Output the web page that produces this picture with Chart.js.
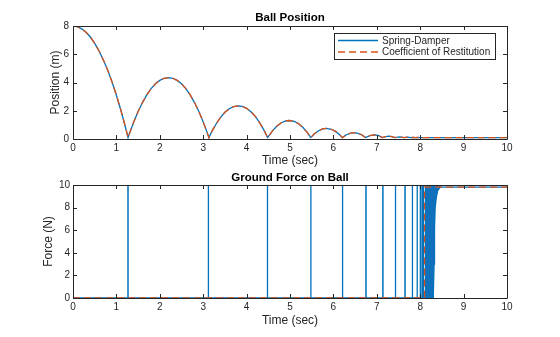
<!DOCTYPE html>
<html>
<head>
<meta charset="utf-8">
<title>Ball Position</title>
<script src="https://cdn.jsdelivr.net/npm/chart.js@4.4.1/dist/chart.umd.min.js"></script>
<style>
    body { margin: 0; background: #fff; }
    canvas { position: absolute; left: 0; }
    #posChart { top: 0; }
    #forceChart { top: 168px; }
</style>
</head>
<body>
<canvas id="posChart" width="560" height="168"></canvas>
<canvas id="forceChart" width="560" height="169"></canvas>
<script>
// -----------------------------
// DATA
// -----------------------------
const xTicks = [0, 1, 2, 3, 4, 5, 6, 7, 8, 9, 10];
const posTicks = [0, 2, 4, 6, 8];
const forceTicks = [0, 2, 4, 6, 8, 10];

const seriesNames = ["Spring-Damper", "Coefficient of Restitution"];

// ball height vs time (both models sit almost on top of each other)
const posTime = [
    0, 0.1, 0.2, 0.3, 0.4, 0.5, 0.6, 0.7, 0.8, 0.9, 1.0, 1.1, 1.2, 1.269,
    1.3, 1.4, 1.5, 1.6, 1.7, 1.8, 1.9, 2.0, 2.1, 2.2, 2.3, 2.4, 2.5, 2.6, 2.7, 2.8, 2.9, 3.0, 3.1, 3.131,
    3.2, 3.3, 3.4, 3.5, 3.6, 3.7, 3.808, 3.9, 4.0, 4.1, 4.2, 4.3, 4.4, 4.485,
    4.6, 4.7, 4.8, 4.9, 4.982, 5.1, 5.2, 5.3, 5.4, 5.478,
    5.55, 5.65, 5.75, 5.842, 5.95, 6.05, 6.15, 6.206,
    6.3, 6.4, 6.473, 6.55, 6.65, 6.74,
    6.84, 6.936, 7.03, 7.132,
    7.2, 7.276, 7.35, 7.419,
    7.525, 7.63,
    7.707, 7.785,
    7.841, 7.898,
    7.94, 7.98,
    10
];
const posSpring = [
    8.00, 7.95, 7.80, 7.56, 7.22, 6.77, 6.23, 5.60, 4.86, 4.03, 3.10, 2.07, 0.94, 0.10,
    0.38, 1.21, 1.95, 2.58, 3.12, 3.57, 3.91, 4.15, 4.30, 4.35, 4.30, 4.15, 3.91, 3.57, 3.12, 2.58, 1.95, 1.21, 0.38, 0.10,
    0.54, 1.08, 1.53, 1.89, 2.14, 2.29, 2.35, 2.31, 2.17, 1.93, 1.60, 1.16, 0.63, 0.10,
    0.59, 0.92, 1.15, 1.28, 1.31, 1.24, 1.08, 0.81, 0.45, 0.10,
    0.33, 0.57, 0.71, 0.75, 0.69, 0.54, 0.29, 0.10,
    0.30, 0.42, 0.45, 0.42, 0.30, 0.10,
    0.24, 0.29, 0.25, 0.10,
    0.17, 0.20, 0.17, 0.10,
    0.15, 0.10,
    0.13, 0.10,
    0.12, 0.10,
    0.11, 0.10,
    0.10
];
const posCOR = [
    8.00, 7.95, 7.80, 7.56, 7.22, 6.77, 6.23, 5.60, 4.86, 4.03, 3.10, 2.07, 0.94, 0.10,
    0.38, 1.21, 1.95, 2.58, 3.12, 3.57, 3.91, 4.15, 4.30, 4.35, 4.30, 4.15, 3.91, 3.57, 3.12, 2.58, 1.95, 1.21, 0.38, 0.10,
    0.54, 1.08, 1.53, 1.89, 2.14, 2.29, 2.35, 2.31, 2.17, 1.93, 1.60, 1.16, 0.63, 0.10,
    0.59, 0.92, 1.15, 1.28, 1.31, 1.24, 1.08, 0.81, 0.45, 0.10,
    0.33, 0.57, 0.71, 0.75, 0.69, 0.54, 0.29, 0.10,
    0.30, 0.42, 0.45, 0.42, 0.30, 0.10,
    0.24, 0.29, 0.25, 0.10,
    0.17, 0.20, 0.17, 0.10,
    0.15, 0.10,
    0.13, 0.10,
    0.12, 0.10,
    0.11, 0.10,
    0.10
];

// spring-damper ground force: short spikes at each bounce (clipped at 10)
const forceTime = [
    0,
    1.265, 1.265, 1.270, 1.270,
    3.117, 3.117, 3.122, 3.122,
    4.478, 4.478, 4.483, 4.483,
    5.478, 5.478, 5.483, 5.483,
    6.208, 6.208, 6.213, 6.213,
    6.748, 6.748, 6.753, 6.753,
    7.138, 7.138, 7.143, 7.143,
    7.428, 7.428, 7.433, 7.433,
    7.648, 7.648, 7.653, 7.653,
    7.818, 7.818, 7.823, 7.823,
    7.928, 7.928, 7.933, 7.933,
    8.000, 8.000, 8.005, 8.005,
    8.040, 8.040, 8.045, 8.045,
    8.070, 8.070, 8.075, 8.075,
    8.120, 8.120, 8.460, 8.460, 10
];
const forceSpring = [
    0,
    0, 14, 14, 0,
    0, 14, 14, 0,
    0, 14, 14, 0,
    0, 14, 14, 0,
    0, 14, 14, 0,
    0, 14, 14, 0,
    0, 14, 14, 0,
    0, 14, 14, 0,
    0, 14, 14, 0,
    0, 14, 14, 0,
    0, 14, 14, 0,
    0, 14, 14, 0,
    0, 14, 14, 0,
    0, 14, 14, 0,
    0, 14, 14, 9.81, 9.81
];

// lower edge of the dense chatter band before the ball settles
const chatterTime = [8.12, 8.30, 8.32, 8.33, 8.345, 8.37, 8.40, 8.46];
const chatterLow = [0, 0, 3.0, 6.2, 8.0, 8.85, 9.47, 9.81];

// coefficient of restitution ground force
const corForceTime = [0, 8.10, 8.10, 10];
const corForce = [0, 0, 9.81, 9.81];


// -----------------------------
// STYLE
// -----------------------------
const BLUE = "#0072bd";
const ORANGE = "#d95319";
const AXIS = "#262626";
const FONT = "'Liberation Sans', Arial, sans-serif";

Chart.defaults.font.family = FONT;
Chart.defaults.color = AXIS;

function pts(xs, ys) {
    return xs.map((x, i) => ({ x: x, y: ys[i] }));
}

// frame, inward tick marks, title, boxed legend (MATLAB look)
const framePlugin = {
    id: "frame",
    afterDatasetsDraw(chart, args, opts) {
        const ctx = chart.ctx;
        const a = chart.chartArea;
        const sx = chart.scales.x;
        const sy = chart.scales.y;

        ctx.save();
        ctx.strokeStyle = AXIS;
        ctx.lineWidth = 1;
        ctx.beginPath();
        ctx.rect(a.left + 0.5, a.top + 0.5, a.right - a.left, a.bottom - a.top);

        sx.ticks.forEach(t => {
            const px = Math.round(sx.getPixelForValue(t.value)) + 0.5;
            ctx.moveTo(px, a.bottom);
            ctx.lineTo(px, a.bottom - 4);
            ctx.moveTo(px, a.top);
            ctx.lineTo(px, a.top + 4);
        });
        sy.ticks.forEach(t => {
            const py = Math.round(sy.getPixelForValue(t.value)) + 0.5;
            ctx.moveTo(a.left, py);
            ctx.lineTo(a.left + 4, py);
            ctx.moveTo(a.right, py);
            ctx.lineTo(a.right - 4, py);
        });
        ctx.stroke();

        // title
        ctx.fillStyle = "#000";
        ctx.font = "bold 11.5px " + FONT;
        ctx.textAlign = "center";
        ctx.textBaseline = "alphabetic";
        ctx.fillText(opts.title, (a.left + a.right) / 2, a.top - opts.titleGap);

        // legend
        if (opts.legend) {
            const lx = 334, ly = 33, lw = 161, lh = 26;
            ctx.fillStyle = "#fff";
            ctx.fillRect(lx, ly, lw, lh);
            ctx.strokeRect(lx + 0.5, ly + 0.5, lw, lh);

            ctx.font = "10px " + FONT;
            ctx.textAlign = "left";
            ctx.textBaseline = "middle";
            [0, 1].forEach(i => {
                const ds = chart.data.datasets[i];
                const y = ly + 7.5 + i * 11.5;
                ctx.save();
                ctx.strokeStyle = ds.borderColor;
                ctx.lineWidth = 1.5;
                ctx.setLineDash(ds.borderDash || []);
                ctx.beginPath();
                ctx.moveTo(lx + 4, y);
                ctx.lineTo(lx + 44, y);
                ctx.stroke();
                ctx.restore();
                ctx.fillStyle = AXIS;
                ctx.fillText(ds.label, lx + 48, y + 0.5);
            });
        }
        ctx.restore();
    }
};

function axisX(titlePad, height) {
    return {
        type: "linear",
        min: 0,
        max: 10,
        afterBuildTicks: s => { s.ticks = xTicks.map(v => ({ value: v })); },
        afterFit: s => { s.height = height; },
        ticks: { padding: 3, maxRotation: 0, color: AXIS, font: { size: 10 } },
        grid: { display: false, drawTicks: false },
        border: { display: false },
        title: {
            display: true,
            text: "Time (sec)",
            color: AXIS,
            font: { size: 12 },
            padding: { top: 0, bottom: titlePad }
        }
    };
}

function axisY(label, max, tickList, width, tickPad) {
    return {
        min: 0,
        max: max,
        afterBuildTicks: s => { s.ticks = tickList.map(v => ({ value: v })); },
        afterFit: s => { s.width = width; },
        ticks: { padding: tickPad, color: AXIS, font: { size: 10 } },
        grid: { display: false, drawTicks: false },
        border: { display: false },
        title: {
            display: true,
            text: label,
            color: AXIS,
            font: { size: 12 },
            padding: { top: 5, bottom: 0 }
        }
    };
}

const lineStyle = {
    pointRadius: 0,
    borderWidth: 1.3,
    tension: 0,
    fill: false
};


// ----------------------------------
// BALL POSITION
// ----------------------------------
new Chart(document.getElementById("posChart"), {
    type: "line",
    data: {
        datasets: [
            Object.assign({
                label: seriesNames[0],
                data: pts(posTime, posSpring),
                borderColor: BLUE,
                order: 1
            }, lineStyle),
            Object.assign({
                label: seriesNames[1],
                data: pts(posTime, posCOR),
                borderColor: ORANGE,
                borderDash: [7, 4],
                order: 0
            }, lineStyle)
        ]
    },
    options: {
        responsive: false,
        animation: false,
        layout: { padding: { left: 43, right: 53, top: 26, bottom: 0 } },
        scales: {
            x: axisX(0, 29),
            y: axisY("Position (m)", 8, posTicks, 30, 4)
        },
        plugins: {
            legend: { display: false },
            tooltip: { enabled: false },
            frame: { title: "Ball Position", titleGap: 5, legend: true }
        }
    },
    plugins: [framePlugin]
});


// ----------------------------------
// GROUND FORCE
// ----------------------------------
new Chart(document.getElementById("forceChart"), {
    type: "line",
    data: {
        datasets: [
            Object.assign({
                label: seriesNames[0],
                data: pts(forceTime, forceSpring),
                borderColor: BLUE,
                order: 1
            }, lineStyle),
            Object.assign({
                label: seriesNames[1],
                data: pts(corForceTime, corForce),
                borderColor: ORANGE,
                borderDash: [7, 4],
                order: 0
            }, lineStyle),
            Object.assign({}, lineStyle, {
                label: "chatter",
                data: pts(chatterTime, chatterLow),
                borderColor: BLUE,
                backgroundColor: "#1170bb",
                fill: "end",
                order: 2
            })
        ]
    },
    options: {
        responsive: false,
        animation: false,
        layout: { padding: { left: 36, right: 53, top: 17, bottom: 0 } },
        scales: {
            x: axisX(9, 39),
            y: axisY("Force (N)", 10, forceTicks, 37, 3)
        },
        plugins: {
            legend: { display: false },
            tooltip: { enabled: false },
            frame: { title: "Ground Force on Ball", titleGap: 4, legend: false }
        }
    },
    plugins: [framePlugin]
});
</script>
</body>
</html>
